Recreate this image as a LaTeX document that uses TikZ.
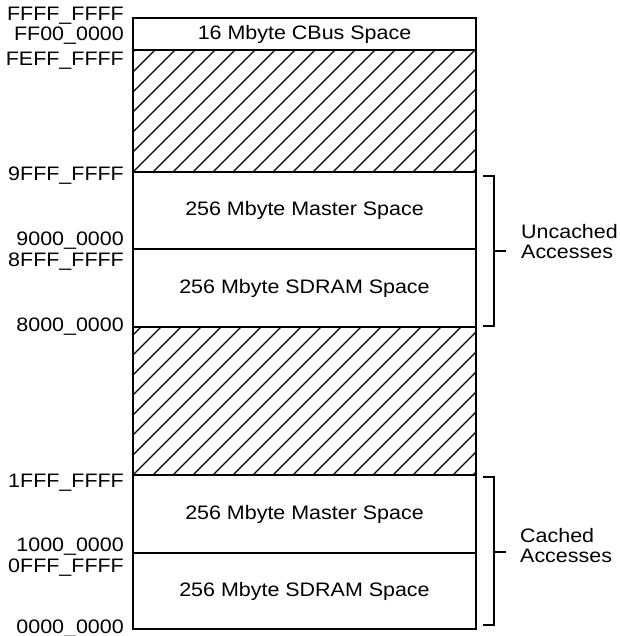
\documentclass[tikz,border=0pt]{standalone}
\usepackage{fontspec}
\setmainfont[FakeStretch=1.1]{Liberation Sans}
\begin{document}
\begin{tikzpicture}[x=1pt,y=-1pt,
  every node/.style={font=\fontsize{19.5}{20}\selectfont},
  region/.style={draw, line width=2pt, minimum width=343pt, inner sep=0pt, outer sep=0pt, anchor=north west},
  hatched/.style={path picture={\foreach \k in {0,...,32}{\draw[line width=1.3pt] ([xshift=\k*20pt-220pt]path picture bounding box.south west) -- ++(240pt,240pt);}}},
  addr/.style={anchor=base east, inner sep=0pt},
  brk/.style={line width=1.3pt},
  side/.style={anchor=west, align=left, inner sep=0pt}]
\useasboundingbox (0,0) rectangle (619,636);
% regions
\node[region, minimum height=32pt] (cbus) at (133,18) {16 Mbyte CBus Space};
\node[region, hatched, minimum height=122pt] (hA) at (133,50) {};
\node[region, minimum height=77pt] (m1) at (133,172) {256 Mbyte Master Space};
\node[region, minimum height=78pt] (s1) at (133,249) {256 Mbyte SDRAM Space};
\node[region, hatched, minimum height=148pt] (hB) at (133,327) {};
\node[region, minimum height=78pt] (m0) at (133,475) {256 Mbyte Master Space};
\node[region, minimum height=76pt] (s0) at (133,553) {256 Mbyte SDRAM Space};
% address labels
\node[addr] (a1) at (124,21) {FFFF\_FFFF};
\node[addr] (a2) at (124,41) {FF00\_0000};
\node[addr] (a3) at (124,66) {FEFF\_FFFF};
\node[addr] (a4) at (124,181) {9FFF\_FFFF};
\node[addr] (a5) at (124,245) {9000\_0000};
\node[addr] (a6) at (124,266) {8FFF\_FFFF};
\node[addr] (a7) at (124,331) {8000\_0000};
\node[addr] (a8) at (124,487) {1FFF\_FFFF};
\node[addr] (a9) at (124,551) {1000\_0000};
\node[addr] (a10) at (124,572) {0FFF\_FFFF};
\node[addr] (a11) at (124,633) {0000\_0000};
% brackets
\coordinate (ut) at (483,176);
\coordinate (ub) at (483,326);
\coordinate (um) at (494,251);
\coordinate (ct) at (483,477);
\coordinate (cb) at (483,625);
\coordinate (cm) at (494,552);
\draw[brk] (ut) -- ++(11,0) |- (ub);
\draw[brk] (um) -- ++(12,0);
\draw[brk] (ct) -- ++(11,0) |- (cb);
\draw[brk] (cm) -- ++(12,0);
\node[side] (ul) at (521,242) {Uncached\\Accesses};
\node[side] (cl) at (520,546) {Cached\\Accesses};
\end{tikzpicture}
\end{document}
